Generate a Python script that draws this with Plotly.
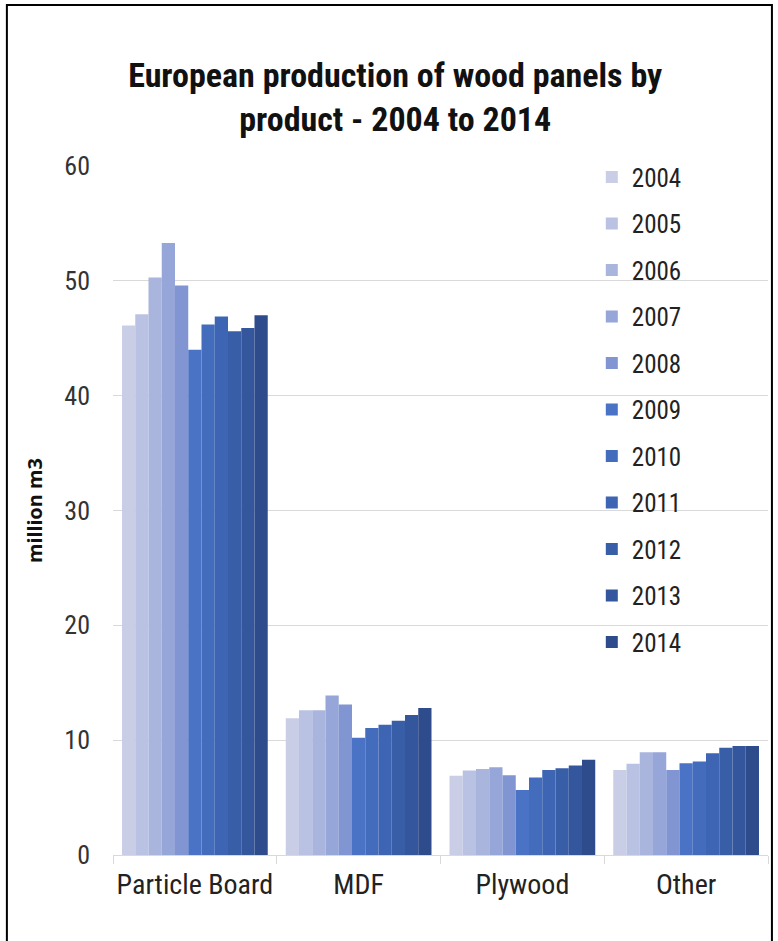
import plotly.graph_objects as go

categories = ["Particle Board", "MDF", "Plywood", "Other"]
years = ["2004", "2005", "2006", "2007", "2008", "2009", "2010", "2011", "2012", "2013", "2014"]

particle_board = [46.1, 47.1, 50.3, 53.3, 49.6, 44.0, 46.2, 46.9, 45.6, 45.9, 47.0]
mdf = [11.9, 12.6, 12.6, 13.9, 13.1, 10.2, 11.05, 11.35, 11.7, 12.2, 12.8]
plywood = [6.9, 7.35, 7.5, 7.65, 6.95, 5.65, 6.75, 7.4, 7.55, 7.8, 8.3]
other = [7.4, 7.95, 8.95, 8.95, 7.4, 8.0, 8.15, 8.85, 9.35, 9.5, 9.5]

colors = ["#c9cee6", "#b9c2e2", "#a9b5dd", "#96a6d8", "#8095d2", "#4a73c6",
          "#436cbd", "#3e65b3", "#395ea8", "#34569c", "#2e4c8c"]

FONT = "Liberation Sans Narrow, Arial Narrow, Roboto Condensed, Noto Sans, sans-serif"

fig = go.Figure()
for i, y in enumerate(years):
    vals = [particle_board[i], mdf[i], plywood[i], other[i]]
    fig.add_trace(go.Bar(
        x=categories, y=vals, name=y,
        marker=dict(color=colors[i], line=dict(width=0)),
        legendgroup=y,
    ))

fig.update_layout(
    width=778, height=941,
    margin=dict(l=113, r=10, t=166, b=86),
    paper_bgcolor="white", plot_bgcolor="white",
    barmode="group", bargap=0.11, bargroupgap=0,
    title=dict(
        text="<b>European production of wood panels by<br>product - 2004 to 2014</b>",
        x=0.508, xref="container", xanchor="center",
        y=0.908, yref="container", yanchor="middle",
        font=dict(family=FONT, size=34, color="#111111"),
    ),
    legend=dict(
        x=0.731, xanchor="left", y=1.017, yanchor="top",
        font=dict(family=FONT, size=25, color="#222222"),
        bgcolor="rgba(0,0,0,0)", tracegroupgap=11,
        itemwidth=30, maxheight=900,
    ),
    xaxis=dict(
        type="category",
        tickfont=dict(family=FONT, size=28, color="#222222"),
        tickangle=0, automargin=False,
        showgrid=False, showline=True, linecolor="#d9d9d9", linewidth=1,
        ticks="outside", tickson="boundaries", ticklen=8, tickcolor="#d9d9d9",
        ticklabelstandoff=4,
    ),
    yaxis=dict(
        range=[0, 60], dtick=10,
        showgrid=True, gridcolor="#d9d9d9", gridwidth=1,
        zeroline=False,
        tickfont=dict(family=FONT, size=26, color="#333333"),
        ticks="", ticklabelstandoff=22,
        title=dict(text="<b>million m3</b>", font=dict(family="Noto Sans, sans-serif", size=20, color="#111111"), standoff=16),
    ),
    shapes=[dict(type="rect", xref="paper", yref="paper",
                 x0=-0.162, x1=1.006, y0=-0.25, y1=1.2337,
                 line=dict(color="black", width=2))],
)

fig.write_html("out.html")
